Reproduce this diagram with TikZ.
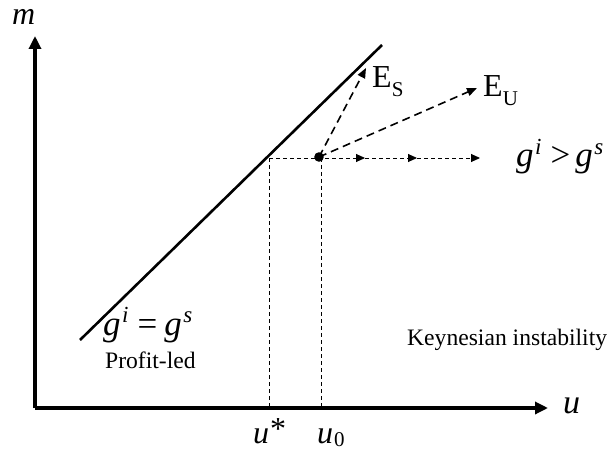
\documentclass[tikz,border=0pt]{standalone}
\usepackage{fontspec}
\setmainfont{Liberation Serif}
\usetikzlibrary{arrows.meta}
\newcommand{\txtsz}{\fontsize{23.6}{26}\selectfont}
\newcommand{\mathsz}{\fontsize{32}{34}\selectfont}
\newcommand{\gsz}{\fontsize{35}{36}\selectfont}
\newcommand{\supsz}{\fontsize{21}{21}\selectfont}
\newcommand{\gsup}[1]{\textit{g}\kern1.5pt\raisebox{0.36em}{\fontsize{23}{23}\selectfont\textit{#1}}}
\tikzset{
  axis/.style={line width=3.2pt,-{Triangle[length=13pt,width=12pt]}},
  curve/.style={line width=2.6pt},
  guide/.style={line width=0.9pt,dash pattern=on 4pt off 3pt},
  flow/.style={line width=0.9pt,dash pattern=on 4pt off 3pt,-{Triangle[length=9pt,width=8pt]}},
  path/.style={line width=1.6pt,dash pattern=on 8pt off 5pt,-{Triangle[length=10pt,width=8pt]}},
  lab/.style={inner sep=0pt},
}
\begin{document}
\begin{tikzpicture}[x=1pt,y=-1pt]
\useasboundingbox (0,0) rectangle (609,454);
% coordinates
\coordinate (O) at (35,408);
\coordinate (ytip) at (35,36);
\coordinate (xtip) at (548,408);
\coordinate (L1) at (80,340);
\coordinate (L2) at (382,45);
\coordinate (ustar) at (269,158);
\coordinate (ustarb) at (269,408);
\coordinate (uzb) at (321,408);
\coordinate (uzt) at (321,158);
\coordinate (dot) at (319,157);
\coordinate (a1) at (365,158);
\coordinate (a2) at (417,158);
\coordinate (a3) at (480,158);
\coordinate (es) at (366,68);
\coordinate (eu) at (477,88);
% axes
\draw[axis] (O) -- (ytip);
\draw[axis] (O) -- (xtip);
% line
\draw[curve] (L1) -- (L2);
% guides
\draw[guide] (ustar) -- (ustarb);
\draw[guide] (uzt) -- (uzb);
\draw[flow] (ustar) -- (a1);
\draw[flow] (a1) -- (a2);
\draw[flow] (a2) -- (a3);
% paths
\draw[path] (dot) -- (es);
\draw[path] (dot) -- (eu);
\fill (dot) circle (4.8pt);
% labels
\node[lab,anchor=base west] (m) at (12,25) {\mathsz\textit{m}};
\node[lab,anchor=base west] (u) at (563,413) {\fontsize{34}{34}\selectfont\textit{u}};
\node[lab,anchor=base west] (us) at (253,443) {\mathsz\textit{u}\kern1pt\raisebox{0.1em}{*}};
\node[lab,anchor=base west] (u0) at (317,443) {\mathsz\textit{u}\kern1pt\raisebox{-0.12em}{\supsz 0}};
\node[lab,anchor=base west] (ES) at (372,88) {\mathsz E\raisebox{-0.28em}{\supsz S}};
\node[lab,anchor=base west] (EU) at (483,97) {\mathsz E\raisebox{-0.28em}{\supsz U}};
\node[lab,anchor=base west] (gg) at (516,167) {\gsz\gsup{i}\kern9pt{>}\kern5pt\gsup{s}};
\node[lab,anchor=base west] (ge) at (103,335) {\gsz\gsup{i}\kern9pt{=}\kern7pt\gsup{s}};
\node[lab,anchor=base west] (pl) at (105,368) {\txtsz Profit-led};
\node[lab,anchor=base west] (ki) at (407,345) {\txtsz Keynesian instability};
\end{tikzpicture}
\end{document}
